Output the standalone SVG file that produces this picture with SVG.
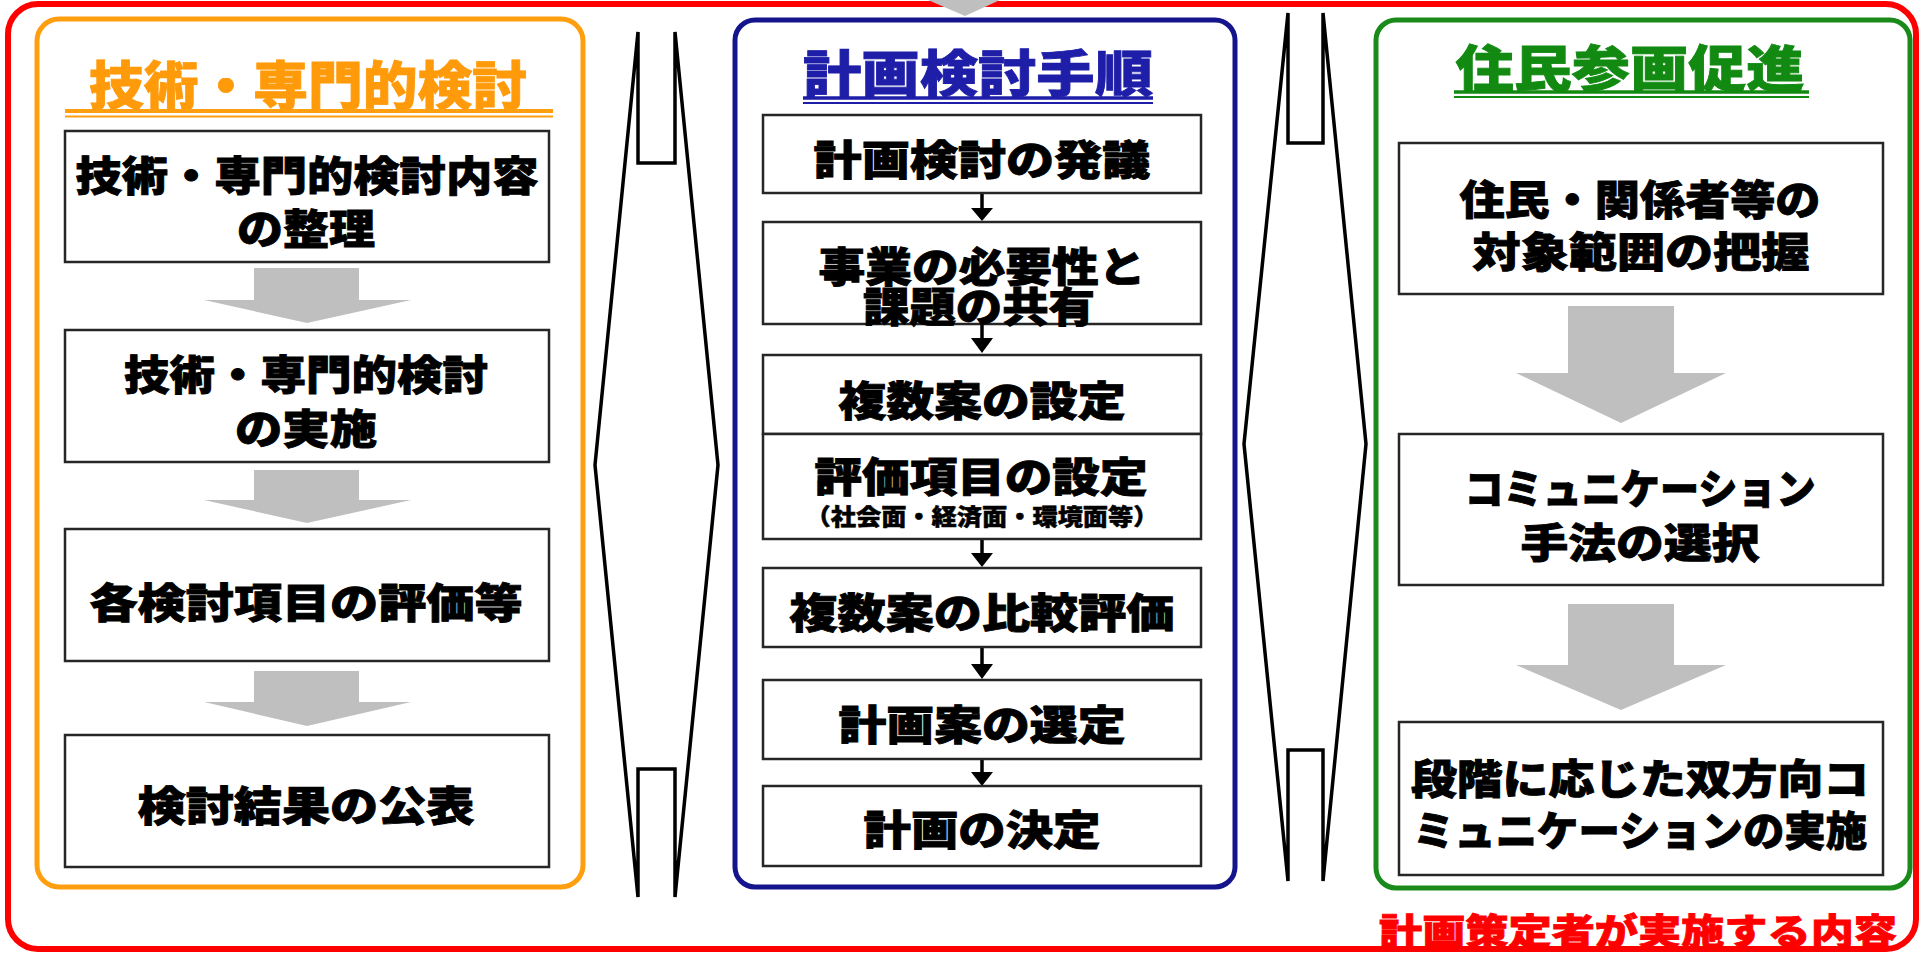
<svg xmlns="http://www.w3.org/2000/svg" width="1922" height="953" viewBox="0 0 1922 953">
<style>
.t{font-family:"Noto Sans CJK JP","Noto Sans CJK SC",sans-serif;font-weight:900;dominant-baseline:central;text-anchor:middle;}
.bk{fill:#000;stroke:#000;stroke-width:0.9;font-size:41px;}
.box{fill:#fff;stroke:#262626;stroke-width:2.5;}
.garrow{fill:#BFBFBF;}
.wedge{fill:#fff;stroke:#000;stroke-width:3.5;stroke-linejoin:miter;}
.sarrow{fill:#000;}
</style>
<rect x="0" y="0" width="1922" height="953" fill="#fff"/>
<rect id="frame" x="8" y="4" width="1908" height="945" rx="30" fill="none" stroke="#FF0000" stroke-width="6"/>
<polygon class="garrow" points="928,0 1000,0 965,16"/>

<g id="connectors">
<polygon id="wedge-left" class="wedge" points="638,32 638,163 675,163 675,32 718,465 675,897 675,769 638,769 638,897 595,465"/>
<polygon id="wedge-right" class="wedge" points="1288,13 1288,143 1323,143 1323,13 1366,444 1323,881 1323,750 1288,750 1288,881 1244,444"/>
<polygon class="garrow" points="254,268 359,268 359,300 411,300 307,323 204,300 254,300"/>
<polygon class="garrow" points="254,470 359,470 359,500 411,500 307,523 204,500 254,500"/>
<polygon class="garrow" points="254,671 359,671 359,702 411,702 307,726 204,702 254,702"/>
<polygon class="garrow" points="1568,306 1674,306 1674,373 1726,373 1621,423 1516,373 1568,373"/>
<polygon class="garrow" points="1568,604 1674,604 1674,665 1726,665 1621,710 1516,665 1568,665"/>
<g stroke="#000" stroke-width="3.5">
<line x1="982" y1="193" x2="982" y2="210"/>
<line x1="982" y1="324" x2="982" y2="340"/>
<line x1="982" y1="539" x2="982" y2="555"/>
<line x1="982" y1="647" x2="982" y2="666"/>
<line x1="982" y1="759" x2="982" y2="774"/>
</g>
<polygon class="sarrow" points="971,208 993,208 982,221"/>
<polygon class="sarrow" points="971,338 993,338 982,353"/>
<polygon class="sarrow" points="971,553 993,553 982,567"/>
<polygon class="sarrow" points="971,664 993,664 982,679"/>
<polygon class="sarrow" points="971,772 993,772 982,786"/>
</g>

<g id="col-left">
<rect x="37" y="19" width="546" height="868" rx="22" fill="none" stroke="#FF9F10" stroke-width="5"/>
<text class="t" x="308" y="82" font-size="52" fill="#FF9A0A" stroke="#FF9A0A" stroke-width="0.8" textLength="438" lengthAdjust="spacingAndGlyphs">技術・専門的検討</text>
<line x1="65" y1="111" x2="553" y2="111" stroke="#FF9F10" stroke-width="4"/>
<line x1="65" y1="116.5" x2="553" y2="116.5" stroke="#FF9F10" stroke-width="2"/>
</g>
<g id="left-1">
<rect class="box" x="65" y="131" width="484" height="131"/>
<text class="t bk"><tspan x="307" y="173" textLength="463" lengthAdjust="spacingAndGlyphs">技術・専門的検討内容</tspan><tspan x="306" y="226" textLength="138" lengthAdjust="spacingAndGlyphs">の整理</tspan></text>
</g>
<g id="left-2">
<rect class="box" x="65" y="330" width="484" height="132"/>
<text class="t bk"><tspan x="306" y="372" textLength="364" lengthAdjust="spacingAndGlyphs">技術・専門的検討</tspan><tspan x="306" y="426" textLength="142" lengthAdjust="spacingAndGlyphs">の実施</tspan></text>
</g>
<g id="left-3">
<rect class="box" x="65" y="529" width="484" height="132"/>
<text class="t bk" x="306" y="600" textLength="433" lengthAdjust="spacingAndGlyphs">各検討項目の評価等</text>
</g>
<g id="left-4">
<rect class="box" x="65" y="735" width="484" height="132"/>
<text class="t bk" x="306" y="803" textLength="337" lengthAdjust="spacingAndGlyphs">検討結果の公表</text>
</g>

<g id="col-mid">
<rect x="735" y="20" width="500" height="867" rx="20" fill="none" stroke="#14148C" stroke-width="5"/>
<text class="t" x="978" y="70" font-size="50" fill="#1E1EA8" stroke="#1E1EA8" stroke-width="0.8" textLength="350" lengthAdjust="spacingAndGlyphs">計画検討手順</text>
<line x1="803" y1="98" x2="1153" y2="98" stroke="#1E1EA8" stroke-width="3.5"/>
<line x1="803" y1="103" x2="1153" y2="103" stroke="#1E1EA8" stroke-width="2"/>
</g>
<g id="mid-1">
<rect class="box" x="763" y="115" width="438" height="78"/>
<text class="t bk" x="982" y="157" textLength="337" lengthAdjust="spacingAndGlyphs">計画検討の発議</text>
</g>
<g id="mid-2">
<rect class="box" x="763" y="222" width="438" height="102"/>
<text class="t bk" font-size="38"><tspan x="982" y="264" textLength="327" lengthAdjust="spacingAndGlyphs">事業の必要性と</tspan><tspan x="979" y="304" textLength="232" lengthAdjust="spacingAndGlyphs">課題の共有</tspan></text>
</g>
<g id="mid-3">
<rect class="box" x="763" y="355" width="438" height="79"/>
<text class="t bk" x="982" y="398" textLength="287" lengthAdjust="spacingAndGlyphs">複数案の設定</text>
</g>
<g id="mid-4">
<rect class="box" x="763" y="434" width="438" height="105"/>
<text class="t bk" font-size="39"><tspan x="981" y="474" textLength="333" lengthAdjust="spacingAndGlyphs">評価項目の設定</tspan><tspan x="982" y="515" font-size="23" stroke-width="0.5" textLength="353" lengthAdjust="spacingAndGlyphs">（社会面・経済面・環境面等）</tspan></text>
</g>
<g id="mid-5">
<rect class="box" x="763" y="568" width="438" height="79"/>
<text class="t bk" x="982" y="610" textLength="385" lengthAdjust="spacingAndGlyphs">複数案の比較評価</text>
</g>
<g id="mid-6">
<rect class="box" x="763" y="680" width="438" height="79"/>
<text class="t bk" x="982" y="722" textLength="287" lengthAdjust="spacingAndGlyphs">計画案の選定</text>
</g>
<g id="mid-7">
<rect class="box" x="763" y="786" width="438" height="80"/>
<text class="t bk" x="982" y="827" textLength="237" lengthAdjust="spacingAndGlyphs">計画の決定</text>
</g>

<g id="col-right">
<rect x="1376" y="20" width="534" height="868" rx="20" fill="none" stroke="#1A8A1A" stroke-width="5"/>
<text class="t" x="1630" y="65" font-size="50" fill="#128A12" stroke="#128A12" stroke-width="0.8" textLength="349" lengthAdjust="spacingAndGlyphs">住民参画促進</text>
<line x1="1454" y1="92" x2="1809" y2="92" stroke="#128A12" stroke-width="3.5"/>
<line x1="1454" y1="97" x2="1809" y2="97" stroke="#128A12" stroke-width="2"/>
</g>
<g id="right-1">
<rect class="box" x="1399" y="143" width="484" height="151"/>
<text class="t bk"><tspan x="1640" y="197" textLength="361" lengthAdjust="spacingAndGlyphs">住民・関係者等の</tspan><tspan x="1641" y="249" textLength="337" lengthAdjust="spacingAndGlyphs">対象範囲の把握</tspan></text>
</g>
<g id="right-2">
<rect class="box" x="1399" y="434" width="484" height="151"/>
<text class="t bk"><tspan x="1640" y="486" textLength="351" lengthAdjust="spacingAndGlyphs">コミュニケーション</tspan><tspan x="1640" y="540" textLength="239" lengthAdjust="spacingAndGlyphs">手法の選択</tspan></text>
</g>
<g id="right-3">
<rect class="box" x="1399" y="722" width="484" height="153"/>
<text class="t bk"><tspan x="1640" y="776" textLength="458" lengthAdjust="spacingAndGlyphs">段階に応じた双方向コ</tspan><tspan x="1640" y="828" textLength="454" lengthAdjust="spacingAndGlyphs">ミュニケーションの実施</tspan></text>
</g>
<g id="note">
<text class="t" x="1638" y="929" font-size="36" fill="#FF0000" stroke="#FF0000" stroke-width="0.8" textLength="518" lengthAdjust="spacingAndGlyphs">計画策定者が実施する内容</text>
</g>
</svg>
